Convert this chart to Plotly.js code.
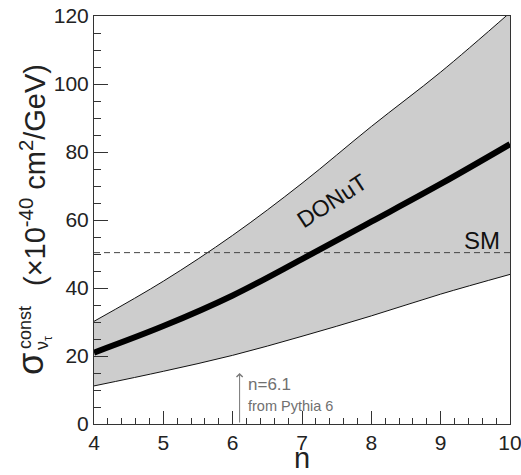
<!DOCTYPE html>
<html>
<head>
<meta charset="utf-8">
<script src="https://cdn.plot.ly/plotly-3.0.1.min.js"></script>
<style>html,body{margin:0;padding:0;background:#fff;}#chart{width:521px;height:475px;}</style>
</head>
<body>
<div id="chart"></div>
<script>
// n values
var nValues = [4, 5, 6, 7, 8, 9, 10];
// DONuT band (x10^-40 cm^2/GeV)
var upperValues = [30.2, 42.0, 55.5, 70.8, 87.5, 103.5, 121.0];
var centralValues = [21.0, 28.8, 37.8, 48.5, 59.5, 70.6, 82.3];
var lowerValues = [11.2, 15.5, 20.2, 25.8, 31.8, 38.2, 44.0];
// Standard Model value
var smX = [4, 10];
var smValue = 50.4;
var pythiaN = 6.1;
var xTicks = [4, 5, 6, 7, 8, 9, 10];
var yTicks = [0, 20, 40, 60, 80, 100, 120];

var font = "Liberation Sans, Arial, Helvetica, sans-serif";

var traces = [
  {x: nValues, y: lowerValues, mode: 'lines', line: {color: '#111', width: 1, shape: 'spline'}, hoverinfo: 'skip', showlegend: false},
  {x: nValues, y: upperValues, mode: 'lines', fill: 'tonexty', fillcolor: '#cdcdcd', line: {color: '#111', width: 1, shape: 'spline'}, hoverinfo: 'skip', showlegend: false},
  {x: smX, y: smX.map(function(){return smValue;}), mode: 'lines', line: {color: '#444', width: 1, dash: '6px,4px'}, showlegend: false},
  {x: nValues, y: centralValues, mode: 'lines', line: {color: '#000', width: 6, shape: 'spline'}, showlegend: false}
];

function px2paper(px, py) { return {x: (px - 94) / 416, y: (424 - py) / 408}; }

var tPos = px2paper(33, 175), cPos = px2paper(25, 328), nuPos = px2paper(43, 343), sPos = px2paper(30, 364), nPos = px2paper(302, 458);

var layout = {
  width: 521, height: 475,
  margin: {l: 94, r: 11, t: 16, b: 51},
  paper_bgcolor: '#fff', plot_bgcolor: '#fff',
  font: {family: font, color: '#222'},
  showlegend: false,
  xaxis: {
    range: [4, 10], tickvals: xTicks, ticktext: xTicks.map(String),
    ticks: 'inside', ticklen: 13, tickwidth: 1, tickcolor: '#333',
    minor: {dtick: 0.2, ticks: 'inside', ticklen: 6, tickcolor: '#333'},
    showline: true, linecolor: '#333', linewidth: 1, mirror: true,
    showgrid: false, zeroline: false, ticklabeloverflow: 'allow',
    tickfont: {size: 21, color: '#222', family: font}
  },
  yaxis: {
    range: [0, 120], tickvals: yTicks, ticktext: yTicks.map(String),
    ticks: 'inside', ticklen: 14, tickwidth: 1, tickcolor: '#333',
    minor: {dtick: 5, ticks: 'inside', ticklen: 7, tickcolor: '#333'},
    showline: true, linecolor: '#333', linewidth: 1, mirror: true,
    showgrid: false, zeroline: false, ticklabeloverflow: 'allow',
    tickfont: {size: 21, color: '#222', family: font}
  },
  annotations: [
    {xref: 'paper', yref: 'paper', x: nPos.x, y: nPos.y, text: 'n', showarrow: false, xanchor: 'center', yanchor: 'middle', font: {size: 29, color: '#222', family: font}},
    {xref: 'paper', yref: 'paper', x: tPos.x, y: tPos.y, text: '(×10<sup>-40</sup> cm<sup>2</sup>/GeV)', textangle: -90, showarrow: false, xanchor: 'center', yanchor: 'middle', font: {size: 29, color: '#222', family: font}},
    {xref: 'paper', yref: 'paper', x: cPos.x, y: cPos.y, text: 'const', textangle: -90, showarrow: false, xanchor: 'center', yanchor: 'middle', font: {size: 18, color: '#222', family: font}},
    {xref: 'paper', yref: 'paper', x: nuPos.x, y: nuPos.y, text: 'ν<sub>τ</sub>', textangle: -90, showarrow: false, xanchor: 'center', yanchor: 'middle', font: {size: 18, color: '#222', family: font}},
    {xref: 'paper', yref: 'paper', x: sPos.x, y: sPos.y, text: 'σ', textangle: -90, showarrow: false, xanchor: 'center', yanchor: 'middle', font: {size: 36, color: '#222', family: font}},
    {x: 7.43, y: 65.6, text: 'DONuT', textangle: -33, showarrow: false, xanchor: 'center', yanchor: 'middle', font: {size: 23, color: '#111', family: font}},
    {x: 9.6, y: 54.1, text: 'SM', showarrow: false, xanchor: 'center', yanchor: 'middle', font: {size: 24, color: '#111', family: font}},
    {x: pythiaN, y: 15.0, ax: pythiaN, ay: 0, axref: 'x', ayref: 'y', text: '', showarrow: true, arrowhead: 4, arrowsize: 1.2, arrowwidth: 1, arrowcolor: '#777'},
    {x: pythiaN + 0.09, y: 11.5, text: 'n=6.1', showarrow: false, xanchor: 'left', yanchor: 'middle', font: {size: 17, color: '#707070', family: font}},
    {x: pythiaN + 0.09, y: 5.3, text: 'from Pythia 6', showarrow: false, xanchor: 'left', yanchor: 'middle', font: {size: 14.5, color: '#707070', family: font}}
  ]
};

Plotly.newPlot('chart', traces, layout, {displayModeBar: false, staticPlot: true});
</script>
</body>
</html>
